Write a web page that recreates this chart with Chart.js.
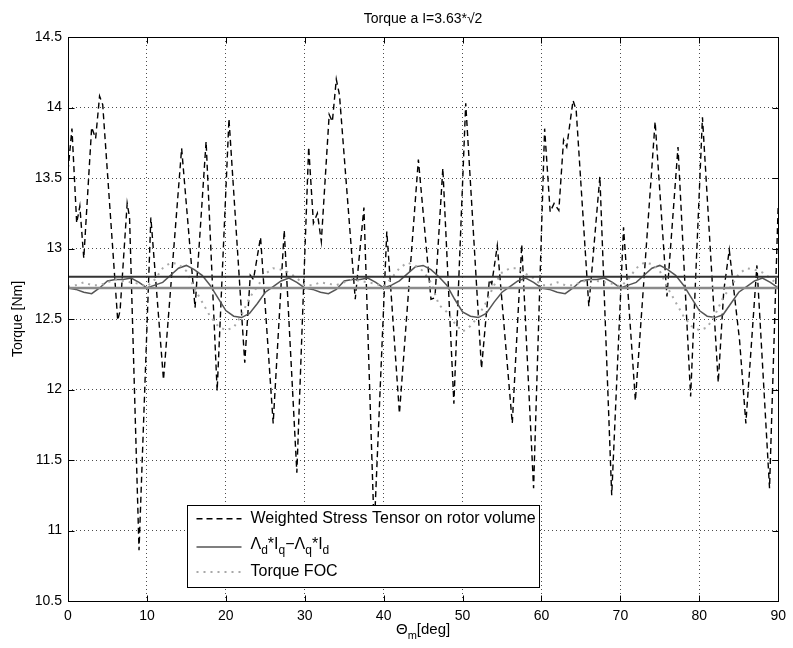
<!DOCTYPE html>
<html><head><meta charset="utf-8">
<script src="https://cdn.jsdelivr.net/npm/chart.js@4/dist/chart.umd.min.js"></script>
<style>html,body{margin:0;padding:0;background:#fff}#wrap{width:793px;height:648px}</style>
</head><body><div id="wrap"><canvas id="c" width="793" height="648"></canvas></div>
<script>
const chartTitle = 'Torque a I=3.63*\u221A2';
const yTitle = 'Torque [Nm]';
const xTicks = [0, 10, 20, 30, 40, 50, 60, 70, 80, 90];
const yTicks = [10.5, 11, 11.5, 12, 12.5, 13, 13.5, 14, 14.5];

const stressTheta = [0, 0.5, 1.1, 1.5, 2.0, 3.0, 3.5, 4.0, 4.4, 6.3, 6.6, 7.5, 7.8, 9.0, 10.5, 12.1, 14.4, 16.1, 17.5, 18.9, 20.4, 22.4, 23.1, 23.5, 24.4, 26.0, 27.4, 29.0,
  30.5, 31.1, 31.6, 32.1, 33.1, 33.5, 34.0, 34.4, 36.4, 37.5, 38.8, 40.4, 42.0, 44.4, 46.0, 46.5, 47.5, 48.9, 50.4, 52.4, 53.4, 53.7, 54.4, 56.3, 57.5, 59.0,
  60.4, 61.1, 61.6, 62.2, 62.8, 63.2, 64.0, 64.4, 66.0, 67.4, 68.9, 70.4, 71.9, 74.4, 75.9, 77.3, 78.9, 80.4, 82.4, 83.1, 83.8, 85.1, 85.9, 87.3, 88.9, 90.0];
const stressTorque = [13.55, 13.85, 13.18, 13.30, 12.93, 13.86, 13.78, 14.08, 14.02, 12.49, 12.56, 13.32, 13.22, 10.86, 13.22, 12.07, 13.71, 12.58, 13.76, 11.99, 13.92, 12.19, 12.81, 12.78, 13.08, 11.76, 13.13, 11.41,
  13.72, 13.18, 13.25, 13.05, 13.95, 13.90, 14.20, 14.09, 12.64, 13.29, 11.00, 13.12, 11.83, 13.63, 12.64, 12.65, 13.57, 11.90, 14.03, 12.15, 12.78, 12.75, 13.02, 11.76, 13.03, 11.30,
  13.85, 13.26, 13.32, 13.27, 13.77, 13.72, 14.05, 13.98, 12.59, 13.51, 11.25, 13.15, 11.92, 13.90, 12.66, 13.72, 11.95, 13.93, 12.05, 12.70, 12.99, 12.35, 11.76, 12.88, 11.30, 13.31];

const gridTheta = [0,1,2,3,4,5,6,7,8,9,10,11,12,13,14,15,16,17,18,19,20,21,22,23,24,25,26,27,28,29,
  30,31,32,33,34,35,36,37,38,39,40,41,42,43,44,45,46,47,48,49,50,51,52,53,54,55,56,57,58,59,
  60,61,62,63,64,65,66,67,68,69,70,71,72,73,74,75,76,77,78,79,80,81,82,83,84,85,86,87,88,89,90];
const lambdaTorque = [12.72,12.71,12.69,12.68,12.72,12.77,12.78,12.78,12.79,12.76,12.72,12.74,12.76,12.81,12.86,12.88,12.85,12.81,12.74,12.65,12.56,12.52,12.51,12.54,12.61,12.69,12.73,12.77,12.79,12.76,
  12.72,12.71,12.69,12.68,12.71,12.77,12.78,12.78,12.79,12.76,12.72,12.74,12.77,12.82,12.87,12.88,12.85,12.80,12.74,12.64,12.55,12.52,12.51,12.54,12.62,12.69,12.73,12.77,12.79,12.76,
  12.72,12.71,12.69,12.68,12.72,12.77,12.78,12.78,12.79,12.76,12.72,12.74,12.76,12.81,12.86,12.88,12.85,12.81,12.74,12.65,12.56,12.52,12.51,12.53,12.61,12.69,12.73,12.77,12.79,12.76,12.72];
const focTorque = [12.73,12.74,12.76,12.74,12.74,12.76,12.78,12.77,12.76,12.75,12.73,12.78,12.86,12.90,12.89,12.84,12.72,12.62,12.52,12.45,12.42,12.44,12.53,12.65,12.73,12.82,12.86,12.85,12.83,12.79,
  12.74,12.74,12.76,12.75,12.74,12.76,12.78,12.77,12.76,12.75,12.73,12.79,12.86,12.90,12.88,12.84,12.76,12.60,12.55,12.47,12.41,12.45,12.52,12.62,12.74,12.83,12.86,12.86,12.82,12.79,
  12.74,12.74,12.76,12.74,12.74,12.76,12.78,12.77,12.76,12.75,12.73,12.78,12.86,12.90,12.89,12.84,12.72,12.62,12.52,12.45,12.42,12.44,12.53,12.65,12.73,12.82,12.86,12.85,12.83,12.79,12.74];
const meanStress = 12.80;
const meanLambda = 12.72;

const FONT = '"Liberation Sans", Arial, Helvetica, sans-serif';
const pts = (xs, ys) => xs.map((x, i) => ({x: x, y: ys[i]}));

function drawParts(ctx, parts, x, y, align, size) {
  const sub = Math.round(size * 0.72), off = size * 0.38;
  let w = 0;
  parts.forEach(p => { ctx.font = (p[1] ? sub : size) + 'px ' + FONT; w += ctx.measureText(p[0]).width; });
  let cx = align === 'center' ? x - w / 2 : x;
  ctx.textAlign = 'left'; ctx.textBaseline = 'middle';
  parts.forEach(p => {
    ctx.font = (p[1] ? sub : size) + 'px ' + FONT;
    ctx.fillText(p[0], cx, p[1] ? y + off : y);
    cx += ctx.measureText(p[0]).width;
  });
}

const decor = {
  id: 'decor',
  afterDraw(chart) {
    const ctx = chart.ctx, ca = chart.chartArea, xs = chart.scales.x, ys = chart.scales.y;
    ctx.save();
    ctx.strokeStyle = '#000'; ctx.lineWidth = 1; ctx.setLineDash([]);
    const L = Math.round(ca.left) + 0.5, T = Math.round(ca.top) + 0.5, R = Math.round(ca.right) + 0.5, B = Math.round(ca.bottom) + 0.5;
    ctx.strokeRect(L, T, R - L, B - T);
    const tl = 6;
    ctx.beginPath();
    xTicks.forEach(v => { const px = Math.round(xs.getPixelForValue(v)) + 0.5; ctx.moveTo(px, B); ctx.lineTo(px, B - tl); ctx.moveTo(px, T); ctx.lineTo(px, T + tl); });
    yTicks.forEach(v => { const py = Math.round(ys.getPixelForValue(v)) + 0.5; ctx.moveTo(L, py); ctx.lineTo(L + tl, py); ctx.moveTo(R, py); ctx.lineTo(R - tl, py); });
    ctx.stroke();

    // legend
    const lx = Math.round(ca.left) + 119.5, ly = Math.round(ca.top) + 468.5, lw = 352, lh = 82;
    ctx.fillStyle = '#fff'; ctx.fillRect(lx, ly, lw, lh);
    ctx.strokeRect(lx, ly, lw, lh);
    const rows = [13.3, 41.5, 66.5];
    const styles = [
      {c: '#000', w: 1.4, d: [6, 4]},
      {c: '#555', w: 1.5, d: []},
      {c: '#a8a8a8', w: 2, d: [2, 5]}
    ];
    rows.forEach((ry, i) => {
      ctx.beginPath(); ctx.strokeStyle = styles[i].c; ctx.lineWidth = styles[i].w; ctx.setLineDash(styles[i].d);
      ctx.moveTo(lx + 9, ly + ry); ctx.lineTo(lx + 54, ly + ry); ctx.stroke();
    });
    ctx.setLineDash([]);
    ctx.fillStyle = '#000';
    drawParts(ctx, [['Weighted Stress Tensor on rotor volume', 0]], lx + 63, ly + rows[0], 'left', 16);
    drawParts(ctx, [['\u039B', 0], ['d', 1], ['*I', 0], ['q', 1], ['\u2212\u039B', 0], ['q', 1], ['*I', 0], ['d', 1]], lx + 63, ly + rows[1] - 2, 'left', 16);
    drawParts(ctx, [['Torque FOC', 0]], lx + 63, ly + rows[2], 'left', 16);

    // titles
    const cxm = (ca.left + ca.right) / 2;
    ctx.font = '14px ' + FONT; ctx.textAlign = 'center'; ctx.textBaseline = 'middle';
    ctx.fillText(chartTitle, cxm, 19);
    drawParts(ctx, [['\u0398', 0], ['m', 1], ['[deg]', 0]], cxm, 630, 'center', 15);
    ctx.save();
    ctx.translate(18, (ca.top + ca.bottom) / 2); ctx.rotate(-Math.PI / 2);
    ctx.font = '14px ' + FONT; ctx.textAlign = 'center'; ctx.textBaseline = 'middle';
    ctx.fillText(yTitle, 0, 0);
    ctx.restore();
    ctx.restore();
  }
};

new Chart(document.getElementById('c'), {
  type: 'line',
  data: {
    datasets: [
      {label: 'mean stress', data: pts([0, 90], [meanStress, meanStress]), borderColor: '#333', borderWidth: 2, order: 0},
      {label: 'mean lambda', data: pts([0, 90], [meanLambda, meanLambda]), borderColor: '#8a8a8a', borderWidth: 2.5, order: 1},
      {label: 'Torque FOC', data: pts(gridTheta, focTorque), borderColor: '#a8a8a8', borderWidth: 2, borderDash: [2, 5], order: 2},
      {label: 'Lambda', data: pts(gridTheta, lambdaTorque), borderColor: '#555', borderWidth: 1.5, order: 3},
      {label: 'Weighted Stress Tensor on rotor volume', data: pts(stressTheta, stressTorque), borderColor: '#000', borderWidth: 1.4, borderDash: [6, 4], order: 4}
    ]
  },
  options: {
    responsive: false, animation: false, devicePixelRatio: 1,
    elements: {point: {radius: 0}, line: {tension: 0, fill: false}},
    layout: {padding: {top: 37, right: 9, left: 0, bottom: 0}},
    plugins: {legend: {display: false}, title: {display: false}, tooltip: {enabled: false}},
    scales: {
      x: {
        type: 'linear', min: 0, max: 90,
        afterBuildTicks(s) { s.ticks = xTicks.map(v => ({value: v})); },
        ticks: {padding: 7, color: '#000', font: {size: 14, family: FONT}, maxRotation: 0, autoSkip: false, callback: v => String(v)},
        grid: {color: 'rgba(0,0,0,0.7)', lineWidth: 1, drawTicks: false},
        border: {display: false, dash: [1, 3]},
        afterFit(s) { s.height = 47; }
      },
      y: {
        type: 'linear', min: 10.5, max: 14.5,
        afterBuildTicks(s) { s.ticks = yTicks.map(v => ({value: v})); },
        ticks: {padding: 6, color: '#000', font: {size: 14, family: FONT}, autoSkip: false, callback: v => String(v)},
        grid: {color: 'rgba(0,0,0,0.7)', lineWidth: 1, drawTicks: false},
        border: {display: false, dash: [1, 3]},
        afterFit(s) { s.width = 68; }
      }
    }
  },
  plugins: [decor]
});
</script></body></html>
